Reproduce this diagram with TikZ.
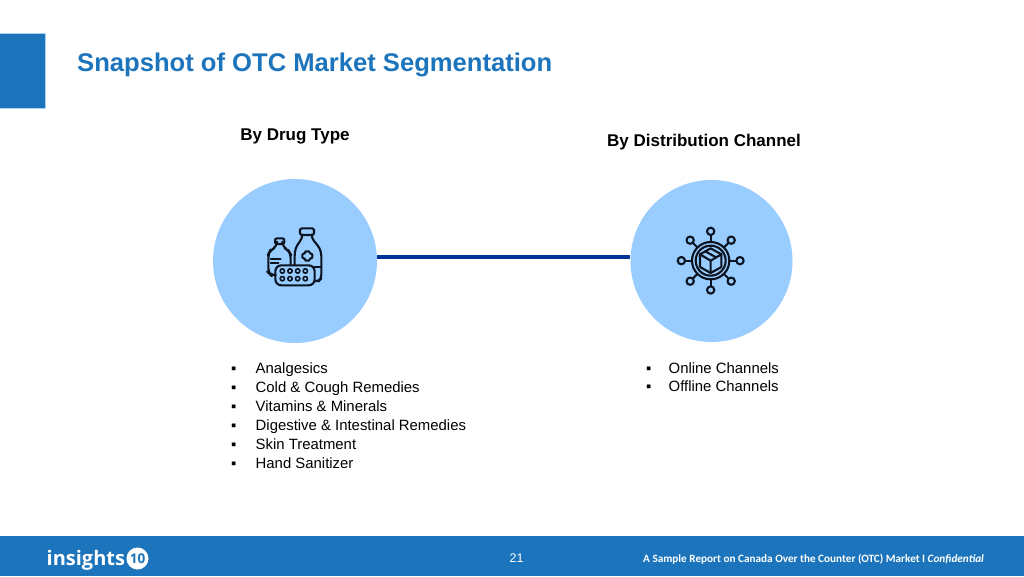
\documentclass[tikz,border=0pt]{standalone}
\usepackage{fontspec}
\setmainfont{Liberation Sans}
\newfontfamily\carlito{Carlito}
\newfontfamily\logofont{Open Sans}
\definecolor{brand}{HTML}{1C75BC}
\definecolor{edge}{HTML}{A9D3EE}
\definecolor{disc}{HTML}{99CCFF}
\definecolor{link}{HTML}{003399}
\definecolor{ink}{HTML}{0B1320}
\tikzset{
 txt/.style={inner sep=0pt,anchor=base west,text=black,font=\fontsize{14.9}{16}\selectfont},
 head/.style={inner sep=0pt,text=black,font=\fontsize{17}{19}\selectfont\bfseries},
 blob/.style={circle,fill=disc,draw=none,inner sep=0pt},
 ic/.style={draw=ink,line width=2.1pt,line join=round,line cap=round},
}
\begin{document}
\begin{tikzpicture}[x=1pt,y=-1pt]
\useasboundingbox (0,0) rectangle (1024,576);
\fill[white] (0,0) rectangle (1024,576);
\fill[edge] (0,32.5) rectangle (46,108.5);
\fill[brand] (0,33.5) rectangle (45.3,107.8);
\fill[brand] (0,536) rectangle (1024,576);
\node[inner sep=0pt,anchor=west,text=brand,font=\fontsize{25.6}{28}\selectfont\bfseries] (title) at (77,65) {Snapshot of OTC Market Segmentation};
\node[head] (h1) at (295,136) {By Drug Type};
\node[head] (h2) at (704,142) {By Distribution Channel};
\node[blob,minimum size=164pt] (c1) at (295,261) {};
\node[blob,minimum size=162pt] (c2) at (711.5,261) {};
\draw[link,line width=4pt] ([yshift=4pt]c1.east) -- ([yshift=4pt]c2.west);
% drug icon
\begin{scope}[shift={(250,220)},x=0.3333pt,y=-0.3333pt]
 \draw[ic,rounded corners=2pt] (150,25) rectangle (192,45);
 \draw[ic,rounded corners=4pt] (157,45) -- (157,56) -- (140,76) -- (134,96) -- (134,134);
 \draw[ic,rounded corners=4pt] (185,45) -- (185,56) -- (204,76) -- (214,96) -- (214,176) -- (206,184) -- (194,184);
 \draw[ic,rounded corners=1pt] (165,94) -- (179,94) -- (179,101) -- (187,101) -- (187,115) -- (179,115) -- (179,122) -- (165,122) -- (165,115) -- (157,115) -- (157,101) -- (165,101) -- cycle;
 \draw[ic,rounded corners=6pt] (76,136) rectangle (194,196);
 \draw[ic] (214,140) -- (194,140);
 \foreach \px in {97,120,143,166} \foreach \py in {153,176}
   \draw[ic,line width=1.6pt] (\px,\py) circle (6.5);
 \draw[ic,rounded corners=2pt] (75,55) rectangle (103,72);
 \draw[ic,rounded corners=5pt] (81,72) -- (81,80) -- (60,92) -- (55,102) -- (55,158) -- (62,165) -- (74,165);
 \draw[ic,rounded corners=5pt] (97,72) -- (97,80) -- (116,92) -- (122,102) -- (122,134);
 \draw[ic] (62,118) -- (92,118) (62,130) -- (85,130);
\end{scope}
% network icon
\begin{scope}[shift={(670,220)},x=0.3333pt,y=-0.3333pt]
 \draw[ic] (122,122) circle (56);
 \draw[ic] (122,122) circle (45);
 \draw[ic] (122,85) -- (154,103) -- (154,141) -- (122,159) -- (90,141) -- (90,103) -- cycle;
 \draw[ic] (90,103) -- (122,122) -- (154,103) (122,122) -- (122,159);
 \draw[ic] (106,94) -- (138,112);
 \foreach \a in {0,45,...,315}
   \draw[ic] (122,122) ++(\a:56) -- ++(\a:25);
 \foreach \a in {0,90,180,270}
   \draw[ic,fill=disc] (122,122) ++(\a:88) circle (11);
 \foreach \a in {45,135,225,315}
   \draw[ic,fill=disc] (122,122) ++(\a:87) circle (11);
\end{scope}
% lists
\foreach \n/\t/\y in {a/Analgesics/373,b/Cold \& Cough Remedies/392,d/Vitamins \& Minerals/411,e/Digestive \& Intestinal Remedies/430,f/Skin Treatment/449,g/Hand Sanitizer/468}{
 \node[txt] (bl\n) at (231,\y) {▪};
 \node[txt] (tl\n) at (255.5,\y) {\t};
}
\foreach \n/\t/\y in {a/Online Channels/373,b/Offline Channels/391}{
 \node[txt] (br\n) at (646,\y) {▪};
 \node[txt] (tr\n) at (668.5,\y) {\t};
}
% footer
\node[inner sep=0pt,anchor=base west,text=white,font=\logofont\fontsize{20}{23}\selectfont\bfseries] (logo) at (46.5,565) {insights};
\node[circle,fill=white,inner sep=0pt,minimum size=22pt,text=brand,font=\logofont\fontsize{13.5}{14}\selectfont\bfseries] (ten) at (137.5,558.5) {10};
\node[inner sep=0pt,text=white,font=\fontsize{12.5}{14}\selectfont] (page) at (516.5,558) {21};
\node[inner sep=0pt,anchor=base west,text=white,font=\carlito\fontsize{11.2}{13}\selectfont\bfseries] (foot) at (643,562) {A Sample Report on Canada Over the Counter (OTC) Market I \textit{Confidential}};
\end{tikzpicture}
\end{document}
